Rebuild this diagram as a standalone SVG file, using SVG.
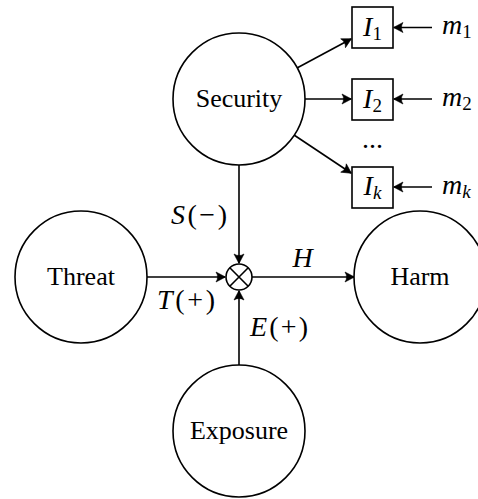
<svg xmlns="http://www.w3.org/2000/svg" width="478" height="499" viewBox="0 0 478 499">
<style>
.n{fill:#fff;stroke:#000;stroke-width:1.6}
.t{font-family:"Liberation Serif","Times New Roman",serif;font-size:26px;fill:#000;text-anchor:middle}
.m{font-family:"Liberation Serif","Times New Roman",serif;font-size:28px;fill:#000}
.i{font-style:italic}
.e{stroke:#000;stroke-width:1.6;fill:none}
</style>
<defs>
<marker id="ah" markerUnits="userSpaceOnUse" viewBox="-10 -6 12 12" refX="0" refY="0" markerWidth="12" markerHeight="12" orient="auto">
<path d="M0.5,0 L-9,-5 Q-5.8,0 -9,5 Z" fill="#000" stroke="#000" stroke-width="0.6" stroke-linejoin="miter"/>
</marker>
</defs>
<g id="connectors">
<line class="e" x1="297" y1="68" x2="351" y2="39" marker-end="url(#ah)"/>
<line class="e" x1="305" y1="99" x2="351" y2="99" marker-end="url(#ah)"/>
<line class="e" x1="294" y1="135" x2="351" y2="173" marker-end="url(#ah)"/>
<line class="e" x1="432" y1="27.5" x2="394" y2="27.5" marker-end="url(#ah)"/>
<line class="e" x1="432" y1="99" x2="394" y2="99" marker-end="url(#ah)"/>
<line class="e" x1="432" y1="187" x2="394" y2="187" marker-end="url(#ah)"/>
<line class="e" x1="239" y1="165" x2="239" y2="263" marker-end="url(#ah)"/>
<line class="e" x1="147" y1="277" x2="225" y2="277" marker-end="url(#ah)"/>
<line class="e" x1="252" y1="277" x2="354" y2="277" marker-end="url(#ah)"/>
<line class="e" x1="239" y1="365" x2="239" y2="291" marker-end="url(#ah)"/>
<text class="m" x="171" y="224" textLength="56" lengthAdjust="spacing"><tspan class="i">S</tspan>(−)</text>
<text class="m i" x="302.5" y="267" text-anchor="middle">H</text>
<text class="m" x="157" y="309" textLength="58" lengthAdjust="spacing"><tspan class="i">T</tspan>(+)</text>
<text class="m" x="250" y="336" textLength="58" lengthAdjust="spacing"><tspan class="i">E</tspan>(+)</text>
</g>
<g id="security"><circle class="n" cx="239" cy="99" r="66"/><text class="t" x="239" y="107">Security</text></g>
<g id="threat"><circle class="n" cx="81" cy="277" r="66"/><text class="t" x="81" y="285">Threat</text></g>
<g id="harm"><circle class="n" cx="420" cy="277" r="66"/><text class="t" x="420" y="285">Harm</text></g>
<g id="exposure"><circle class="n" cx="239" cy="431" r="66"/><text class="t" x="239" y="439">Exposure</text></g>
<g id="product"><circle class="n" cx="239" cy="277" r="13"/><path class="e" d="M229.8,267.8 L248.2,286.2 M248.2,267.8 L229.8,286.2"/></g>
<g id="I1"><rect class="n" x="352" y="7" width="41" height="41"/><text class="m" x="372.5" y="36" text-anchor="middle"><tspan class="i">I</tspan><tspan font-size="19" dy="4">1</tspan></text></g>
<g id="I2"><rect class="n" x="352" y="79" width="41" height="41"/><text class="m" x="372.5" y="108" text-anchor="middle"><tspan class="i">I</tspan><tspan font-size="19" dy="4">2</tspan></text></g>
<g id="dots"><text class="m" x="372.5" y="148" text-anchor="middle" font-size="24">...</text></g>
<g id="Ik"><rect class="n" x="352" y="167" width="41" height="41"/><text class="m" x="372.5" y="195" text-anchor="middle"><tspan class="i">I</tspan><tspan class="i" font-size="19" dy="4">k</tspan></text></g>
<g id="m1"><text class="m" x="442" y="34"><tspan class="i">m</tspan><tspan font-size="19" dy="4">1</tspan></text></g>
<g id="m2"><text class="m" x="442" y="106"><tspan class="i">m</tspan><tspan font-size="19" dy="4">2</tspan></text></g>
<g id="mk"><text class="m" x="442" y="194"><tspan class="i">m</tspan><tspan class="i" font-size="19" dy="4">k</tspan></text></g>
</svg>
